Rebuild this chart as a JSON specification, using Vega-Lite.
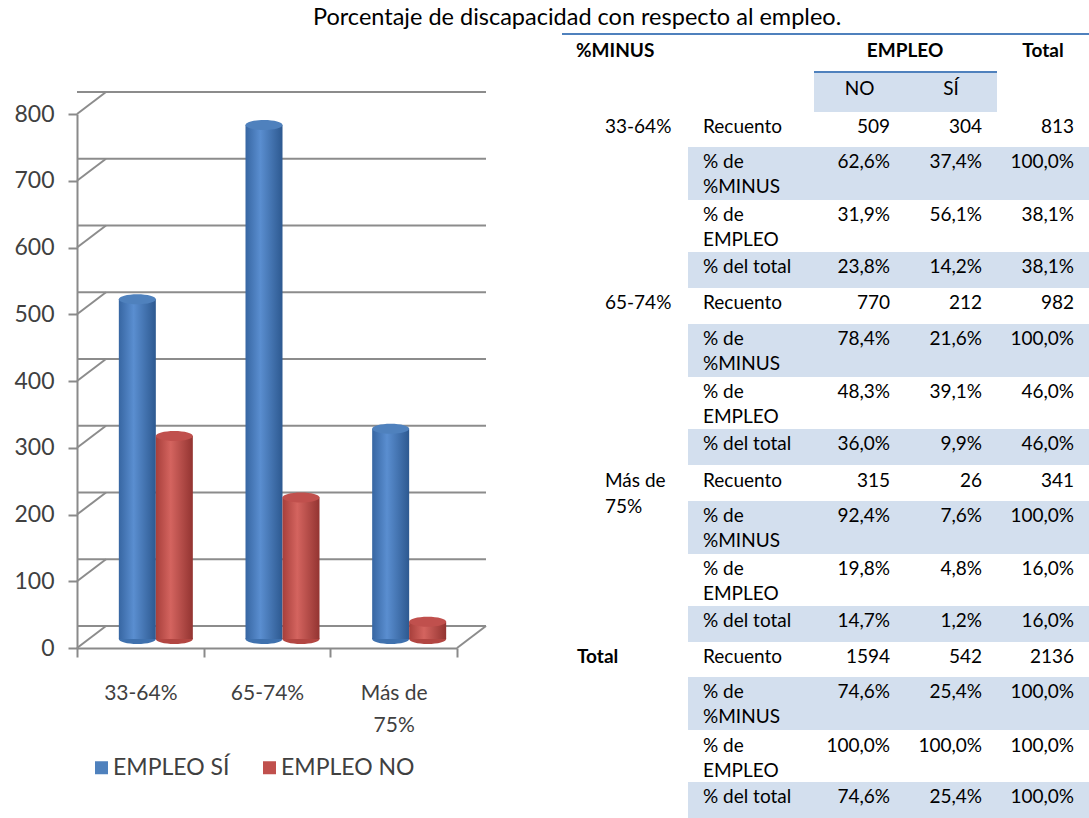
{
  "$schema": "https://vega.github.io/schema/vega-lite/v6.json",
  "padding": {"left": 13, "top": 5, "right": 0, "bottom": 0},
  "background": "white",
  "config": {
    "view": {"stroke": null},
    "font": "Lato",
    "axis": {"domainColor": "#8A8A8A", "domainWidth": 2, "tickColor": "#8A8A8A", "tickWidth": 2, "tickSize": 9, "labelFont": "Lato", "labelColor": "#404040"}
  },
  "title": {"text": "Porcentaje de discapacidad con respecto al empleo.", "anchor": "start", "dx": 299, "fontSize": 23.5, "fontWeight": "normal", "font": "Lato", "color": "#000000", "offset": 4},
  "datasets": {
    "barras": [
      {"categoria": "33-64%", "serie": "EMPLEO SÍ", "valor": 509},
      {"categoria": "33-64%", "serie": "EMPLEO NO", "valor": 304},
      {"categoria": "65-74%", "serie": "EMPLEO SÍ", "valor": 770},
      {"categoria": "65-74%", "serie": "EMPLEO NO", "valor": 212},
      {"categoria": "Más de 75%", "serie": "EMPLEO SÍ", "valor": 315},
      {"categoria": "Más de 75%", "serie": "EMPLEO NO", "valor": 26}
    ],
    "rejilla": [{"valor": 0}, {"valor": 100}, {"valor": 200}, {"valor": 300}, {"valor": 400}, {"valor": 500}, {"valor": 600}, {"valor": 700}, {"valor": 800}],
    "encabezado": [
      {"fila": 0, "texto": "%MINUS"},
      {"fila": 0, "texto": "EMPLEO"},
      {"fila": 0, "texto": "Total"},
      {"fila": 1, "texto": "NO"},
      {"fila": 1, "texto": "SÍ"}
    ],
    "tabla": [
      {"fila": 2, "grupo": "33-64%", "medida": "Recuento", "NO": "509", "SI": "304", "Total": "813"},
      {"fila": 3, "grupo": "33-64%", "medida": "% de\n%MINUS", "NO": "62,6%", "SI": "37,4%", "Total": "100,0%"},
      {"fila": 4, "grupo": "33-64%", "medida": "% de\nEMPLEO", "NO": "31,9%", "SI": "56,1%", "Total": "38,1%"},
      {"fila": 5, "grupo": "33-64%", "medida": "% del total", "NO": "23,8%", "SI": "14,2%", "Total": "38,1%"},
      {"fila": 6, "grupo": "65-74%", "medida": "Recuento", "NO": "770", "SI": "212", "Total": "982"},
      {"fila": 7, "grupo": "65-74%", "medida": "% de\n%MINUS", "NO": "78,4%", "SI": "21,6%", "Total": "100,0%"},
      {"fila": 8, "grupo": "65-74%", "medida": "% de\nEMPLEO", "NO": "48,3%", "SI": "39,1%", "Total": "46,0%"},
      {"fila": 9, "grupo": "65-74%", "medida": "% del total", "NO": "36,0%", "SI": "9,9%", "Total": "46,0%"},
      {"fila": 10, "grupo": "Más de\n75%", "medida": "Recuento", "NO": "315", "SI": "26", "Total": "341"},
      {"fila": 11, "grupo": "Más de\n75%", "medida": "% de\n%MINUS", "NO": "92,4%", "SI": "7,6%", "Total": "100,0%"},
      {"fila": 12, "grupo": "Más de\n75%", "medida": "% de\nEMPLEO", "NO": "19,8%", "SI": "4,8%", "Total": "16,0%"},
      {"fila": 13, "grupo": "Más de\n75%", "medida": "% del total", "NO": "14,7%", "SI": "1,2%", "Total": "16,0%"},
      {"fila": 14, "grupo": "Total", "medida": "Recuento", "NO": "1594", "SI": "542", "Total": "2136"},
      {"fila": 15, "grupo": "Total", "medida": "% de\n%MINUS", "NO": "74,6%", "SI": "25,4%", "Total": "100,0%"},
      {"fila": 16, "grupo": "Total", "medida": "% de\nEMPLEO", "NO": "100,0%", "SI": "100,0%", "Total": "100,0%"},
      {"fila": 17, "grupo": "Total", "medida": "% del total", "NO": "74,6%", "SI": "25,4%", "Total": "100,0%"}
    ]
  },
  "bounds": "flush",
  "spacing": 105,
  "hconcat": [
    {
      "width": 380,
      "height": 614,
      "layer": [
        {
          "data": {"name": "rejilla"},
          "mark": {"type": "rule", "color": "#8C8C8C", "strokeWidth": 2, "xOffset": 29, "yOffset": -22},
          "encoding": {
            "y": {"field": "valor", "type": "quantitative", "scale": {"domain": [0, 800], "range": [614, 80], "nice": false}, "axis": {"title": null, "tickCount": 8, "labelPadding": 14, "labelFontSize": 23, "grid": false}}
          }
        },
        {
          "data": {"name": "rejilla"},
          "mark": {"type": "rule", "color": "#8C8C8C", "strokeWidth": 2, "x2Offset": 29, "y2Offset": -22},
          "encoding": {
            "x": {"datum": "33-64%", "type": "nominal", "bandPosition": 0, "scale": {"domain": ["33-64%", "65-74%", "Más de 75%"], "paddingInner": 0, "paddingOuter": 0}},
            "x2": {"datum": "33-64%", "bandPosition": 0},
            "y": {"field": "valor", "type": "quantitative", "axis": {"title": null, "tickCount": 8, "labelPadding": 14, "labelFontSize": 23, "grid": false}},
            "y2": {"field": "valor"}
          }
        },
        {
          "data": {"name": "rejilla"},
          "transform": [{"filter": "datum.valor === 0"}],
          "mark": {"type": "rule", "color": "#8C8C8C", "strokeWidth": 2, "x2Offset": 29, "y2Offset": -22},
          "encoding": {
            "x": {"datum": "Más de 75%", "type": "nominal", "bandPosition": 1},
            "x2": {"datum": "Más de 75%", "bandPosition": 1},
            "y": {"field": "valor", "type": "quantitative"},
            "y2": {"field": "valor"}
          }
        },
        {
          "data": {"name": "barras"},
          "transform": [{"filter": "datum.serie === 'EMPLEO SÍ'"}],
          "mark": {"type": "point", "shape": "M-1,0A1,0.27,0,1,1,1,0A1,0.27,0,1,1,-1,0Z", "size": 1369, "filled": true, "opacity": 1, "xOffset": -3, "yOffset": -9, "fill": "#3F71AE", "strokeWidth": 0},
          "encoding": {
            "x": {"field": "categoria", "type": "nominal"},
            "y": {"datum": 0, "type": "quantitative"}
          }
        },
        {
          "data": {"name": "barras"},
          "transform": [{"filter": "datum.serie === 'EMPLEO NO'"}],
          "mark": {"type": "point", "shape": "M-1,0A1,0.27,0,1,1,1,0A1,0.27,0,1,1,-1,0Z", "size": 1369, "filled": true, "opacity": 1, "xOffset": 34, "yOffset": -9, "fill": "#B24642", "strokeWidth": 0},
          "encoding": {
            "x": {"field": "categoria", "type": "nominal"},
            "y": {"datum": 0, "type": "quantitative"}
          }
        },
        {
          "data": {"name": "barras"},
          "transform": [{"filter": "datum.serie === 'EMPLEO SÍ'"}],
          "mark": {"type": "bar", "width": 37, "xOffset": -3, "yOffset": -9, "fill": {"gradient": "linear", "x1": 0, "x2": 1, "y1": 0, "y2": 0, "stops": [{"offset": 0, "color": "#3766A2"}, {"offset": 0.4, "color": "#5A8ED0"}, {"offset": 1, "color": "#2D5990"}]}},
          "encoding": {
            "x": {"field": "categoria", "type": "nominal", "axis": {"title": null, "tickBand": "extent", "labelAngle": 0, "labelAlign": "center", "labelFontSize": 21, "labelPadding": 36, "labelLineHeight": 32, "labelExpr": "datum.value === 'Más de 75%' ? ['Más de', '75%'] : datum.label"}},
            "y": {"field": "valor", "type": "quantitative"}
          }
        },
        {
          "data": {"name": "barras"},
          "transform": [{"filter": "datum.serie === 'EMPLEO NO'"}],
          "mark": {"type": "bar", "width": 37, "xOffset": 34, "yOffset": -9, "fill": {"gradient": "linear", "x1": 0, "x2": 1, "y1": 0, "y2": 0, "stops": [{"offset": 0, "color": "#A73F3B"}, {"offset": 0.4, "color": "#D4645F"}, {"offset": 1, "color": "#933431"}]}},
          "encoding": {
            "x": {"field": "categoria", "type": "nominal"},
            "y": {"field": "valor", "type": "quantitative"}
          }
        },
        {
          "data": {"name": "barras"},
          "transform": [{"filter": "datum.serie === 'EMPLEO SÍ'"}],
          "mark": {"type": "point", "shape": "M-1,0A1,0.27,0,1,1,1,0A1,0.27,0,1,1,-1,0Z", "size": 1369, "filled": true, "opacity": 1, "xOffset": -3, "yOffset": -9, "strokeWidth": 0},
          "encoding": {
            "x": {"field": "categoria", "type": "nominal"},
            "y": {"field": "valor", "type": "quantitative"},
            "color": {"field": "serie", "type": "nominal", "scale": {"domain": ["EMPLEO SÍ", "EMPLEO NO"], "range": ["#4F81BD", "#C0504D"]},
              "legend": {"title": null, "orient": "none", "legendX": 13, "legendY": 722, "direction": "horizontal", "symbolType": "square", "symbolSize": 169, "symbolStrokeWidth": 0, "labelFontSize": 23, "labelFont": "Lato", "labelColor": "#404040", "labelOffset": 0, "columnPadding": 28, "padding": 0}}
          }
        },
        {
          "data": {"name": "barras"},
          "transform": [{"filter": "datum.serie === 'EMPLEO NO'"}],
          "mark": {"type": "point", "shape": "M-1,0A1,0.27,0,1,1,1,0A1,0.27,0,1,1,-1,0Z", "size": 1369, "filled": true, "opacity": 1, "xOffset": 34, "yOffset": -9, "strokeWidth": 0},
          "encoding": {
            "x": {"field": "categoria", "type": "nominal"},
            "y": {"field": "valor", "type": "quantitative"},
            "color": {"field": "serie", "type": "nominal"}
          }
        }
      ]
    },
    {
      "width": 527,
      "height": 783,
      "data": {"name": "tabla"},
      "encoding": {
        "y": {"field": "fila", "type": "quantitative", "scale": {"domain": [0, 1, 2, 3, 4, 5, 6, 7, 8, 9, 10, 11, 12, 13, 14, 15, 16, 17, 18], "range": [0, 38, 78, 113, 166, 218, 254, 290, 343, 395, 432, 467, 520, 572, 608, 643, 697, 748, 783], "nice": false, "zero": false}, "axis": null}
      },
      "layer": [
        {
          "transform": [{"filter": "indexof(datum.medida, 'MINUS') >= 0"}],
          "mark": {"type": "rect", "color": "#D3DFEE", "y2Offset": 53},
          "encoding": {
            "x": {"datum": 1, "type": "quantitative", "scale": {"domain": [0, 1, 2, 3, 4, 5], "range": [0, 126, 252, 343, 435, 527], "nice": false, "zero": false}, "axis": null},
            "x2": {"datum": 5},
            "y2": {"field": "fila"}
          }
        },
        {
          "transform": [{"filter": "datum.medida === '% del total'"}],
          "mark": {"type": "rect", "color": "#D3DFEE", "y2Offset": 36},
          "encoding": {
            "x": {"datum": 1, "type": "quantitative", "axis": null},
            "x2": {"datum": 5},
            "y2": {"field": "fila"}
          }
        },
        {
          "data": {"name": "encabezado"},
          "transform": [{"filter": "datum.texto === 'NO'"}],
          "mark": {"type": "rect", "color": "#D3DFEE", "y2Offset": 40},
          "encoding": {
            "x": {"datum": 2, "type": "quantitative", "axis": null},
            "x2": {"datum": 4},
            "y2": {"field": "fila"}
          }
        },
        {
          "data": {"name": "encabezado"},
          "transform": [{"filter": "datum.texto === 'EMPLEO'"}],
          "mark": {"type": "rule", "color": "#4F81BD", "strokeWidth": 2},
          "encoding": {
            "x": {"datum": 0, "type": "quantitative", "axis": null},
            "x2": {"datum": 5}
          }
        },
        {
          "data": {"name": "encabezado"},
          "transform": [{"filter": "datum.texto === 'NO'"}],
          "mark": {"type": "rule", "color": "#4F81BD", "strokeWidth": 2},
          "encoding": {
            "x": {"datum": 2, "type": "quantitative", "axis": null},
            "x2": {"datum": 4}
          }
        },
        {
          "data": {"name": "encabezado"},
          "transform": [{"filter": "datum.texto === '%MINUS'"}],
          "mark": {"type": "text", "align": "left", "baseline": "top", "dx": 14, "dy": 8, "fontSize": 19, "fontWeight": "bold", "font": "Lato", "color": "#000000"},
          "encoding": {"x": {"datum": 0, "type": "quantitative", "axis": null}, "text": {"field": "texto"}}
        },
        {
          "data": {"name": "encabezado"},
          "transform": [{"filter": "datum.texto === 'EMPLEO'"}],
          "mark": {"type": "text", "align": "center", "baseline": "top", "dy": 8, "fontSize": 19, "fontWeight": "bold", "font": "Lato", "color": "#000000"},
          "encoding": {"x": {"datum": 3, "type": "quantitative", "axis": null}, "text": {"field": "texto"}}
        },
        {
          "data": {"name": "encabezado"},
          "transform": [{"filter": "datum.texto === 'Total'"}],
          "mark": {"type": "text", "align": "center", "baseline": "top", "dy": 8, "fontSize": 19, "fontWeight": "bold", "font": "Lato", "color": "#000000"},
          "encoding": {"x": {"datum": 4.5, "type": "quantitative", "axis": null}, "text": {"field": "texto"}}
        },
        {
          "data": {"name": "encabezado"},
          "transform": [{"filter": "datum.texto === 'NO'"}],
          "mark": {"type": "text", "align": "center", "baseline": "top", "dy": 8, "fontSize": 19, "font": "Lato", "color": "#000000"},
          "encoding": {"x": {"datum": 2.5, "type": "quantitative", "axis": null}, "text": {"field": "texto"}}
        },
        {
          "data": {"name": "encabezado"},
          "transform": [{"filter": "datum.texto === 'SÍ'"}],
          "mark": {"type": "text", "align": "center", "baseline": "top", "dy": 8, "fontSize": 19, "font": "Lato", "color": "#000000"},
          "encoding": {"x": {"datum": 3.5, "type": "quantitative", "axis": null}, "text": {"field": "texto"}}
        },
        {
          "transform": [{"filter": "datum.medida === 'Recuento' && datum.grupo !== 'Total'"}],
          "mark": {"type": "text", "align": "left", "baseline": "top", "dx": 43, "dy": 6, "fontSize": 19, "font": "Lato", "color": "#000000", "lineBreak": "\n", "lineHeight": 26},
          "encoding": {"x": {"datum": 0, "type": "quantitative", "axis": null}, "text": {"field": "grupo"}}
        },
        {
          "transform": [{"filter": "datum.medida === 'Recuento' && datum.grupo === 'Total'"}],
          "mark": {"type": "text", "align": "left", "baseline": "top", "dx": 15, "dy": 6, "fontSize": 19, "fontWeight": "bold", "font": "Lato", "color": "#000000"},
          "encoding": {"x": {"datum": 0, "type": "quantitative", "axis": null}, "text": {"field": "grupo"}}
        },
        {
          "mark": {"type": "text", "align": "left", "baseline": "top", "dx": 15, "dy": 6, "fontSize": 19, "font": "Lato", "color": "#000000", "lineBreak": "\n", "lineHeight": 25},
          "encoding": {"x": {"datum": 1, "type": "quantitative", "axis": null}, "text": {"field": "medida"}}
        },
        {
          "mark": {"type": "text", "align": "right", "baseline": "top", "dx": -15, "dy": 6, "fontSize": 19, "font": "Lato", "color": "#000000"},
          "encoding": {"x": {"datum": 3, "type": "quantitative", "axis": null}, "text": {"field": "NO"}}
        },
        {
          "mark": {"type": "text", "align": "right", "baseline": "top", "dx": -15, "dy": 6, "fontSize": 19, "font": "Lato", "color": "#000000"},
          "encoding": {"x": {"datum": 4, "type": "quantitative", "axis": null}, "text": {"field": "SI"}}
        },
        {
          "mark": {"type": "text", "align": "right", "baseline": "top", "dx": -15, "dy": 6, "fontSize": 19, "font": "Lato", "color": "#000000"},
          "encoding": {"x": {"datum": 5, "type": "quantitative", "axis": null}, "text": {"field": "Total"}}
        }
      ]
    }
  ]
}
